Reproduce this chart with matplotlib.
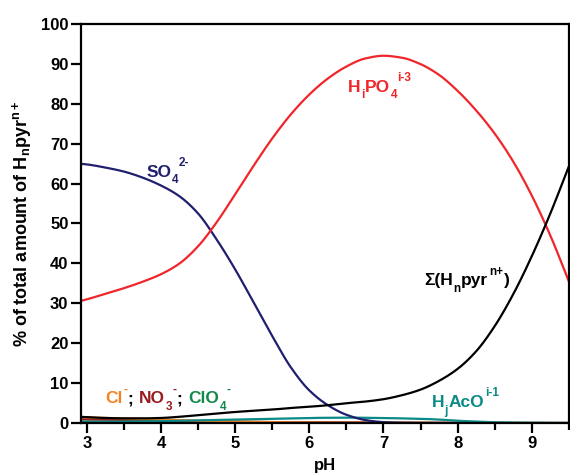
import matplotlib
matplotlib.use("Agg")
import matplotlib.pyplot as plt
from matplotlib.transforms import offset_copy
import numpy as np

plt.rcParams['font.family'] = ['Liberation Sans', 'DejaVu Sans']
plt.rcParams['font.weight'] = 'bold'
plt.rcParams['mathtext.fontset'] = 'custom'
plt.rcParams['mathtext.rm'] = 'Liberation Sans:bold'
plt.rcParams['mathtext.bf'] = 'Liberation Sans:bold'
plt.rcParams['mathtext.default'] = 'bf'

ph = [2.9, 3.0, 3.25, 3.5, 3.75, 4.0, 4.25, 4.5, 4.75, 5.0, 5.25, 5.5, 5.75, 6.0,
      6.25, 6.5, 6.75, 7.0, 7.25, 7.5, 7.75, 8.0, 8.25, 8.5, 8.75, 9.0, 9.25, 9.5]

hipo4 = [30.5, 31.0, 32.4, 33.8, 35.4, 37.3, 40.0, 44.3, 50.3, 57.3, 64.5, 71.3, 77.3, 82.3,
         86.3, 89.3, 91.3, 92.0, 91.5, 89.9, 87.2, 83.2, 78.3, 72.5, 65.5, 57.0, 47.0, 35.5]

so4 = [65.0, 64.8, 64.0, 63.0, 61.5, 59.5, 56.8, 52.5, 46.0, 38.5, 30.2, 21.8, 14.0, 8.2,
       4.5, 2.1, 0.8, 0.25, 0.05, 0.0, 0.0, 0.0, 0.0, 0.0, 0.0, 0.0, 0.0, 0.0]

hpyr = [1.6, 1.5, 1.3, 1.2, 1.2, 1.3, 1.6, 2.0, 2.4, 2.8, 3.1, 3.4, 3.8, 4.1,
        4.5, 5.0, 5.4, 6.0, 7.0, 8.4, 10.6, 13.6, 18.0, 24.3, 32.3, 41.8, 52.5, 64.3]

hjaco = [0.3, 0.3, 0.35, 0.4, 0.45, 0.5, 0.6, 0.7, 0.8, 0.9, 1.0, 1.1, 1.2, 1.3,
         1.35, 1.4, 1.35, 1.3, 1.2, 1.1, 0.9, 0.6, 0.4, 0.2, 0.15, 0.1, 0.08, 0.05]

cl = [1.5, 1.45, 1.3, 1.2, 1.05, 0.9, 0.75, 0.6, 0.5, 0.4, 0.32, 0.25, 0.2, 0.15,
      0.12, 0.1, 0.08, 0.08, 0.07, 0.06, 0.05, 0.05, 0.04, 0.04, 0.03, 0.03, 0.03, 0.03]

no3 = [1.0, 0.95, 0.9, 0.8, 0.7, 0.6, 0.52, 0.45, 0.4, 0.35, 0.3, 0.27, 0.24, 0.2,
       0.19, 0.18, 0.17, 0.15, 0.14, 0.13, 0.12, 0.1, 0.09, 0.08, 0.07, 0.05, 0.05, 0.05]

clo4 = [0.4, 0.4, 0.38, 0.36, 0.33, 0.3, 0.28, 0.25, 0.22, 0.2, 0.18, 0.15, 0.13, 0.1,
        0.09, 0.08, 0.07, 0.06, 0.05, 0.05, 0.04, 0.04, 0.03, 0.03, 0.03, 0.03, 0.03, 0.03]

xticks = [3, 4, 5, 6, 7, 8, 9]
yticks = [0, 10, 20, 30, 40, 50, 60, 70, 80, 90, 100]

c_red = '#f0262a'
c_navy = '#1f1f6e'
c_teal = '#0b8a87'
c_orange = '#f5821f'
c_dred = '#981d22'
c_green = '#12894a'


def smooth_line(x, y, n=20):
    """Monotone cubic (Fritsch-Carlson) drawing path through the read points."""
    x = np.asarray(x, float)
    y = np.asarray(y, float)
    h = np.diff(x)
    d = np.diff(y) / h
    m = np.zeros_like(y)
    m[0], m[-1] = d[0], d[-1]
    for k in range(1, len(x) - 1):
        if d[k - 1] * d[k] <= 0:
            m[k] = 0.0
        else:
            w1 = 2 * h[k] + h[k - 1]
            w2 = h[k] + 2 * h[k - 1]
            m[k] = (w1 + w2) / (w1 / d[k - 1] + w2 / d[k])
    xs, ys = [], []
    for k in range(len(x) - 1):
        t = np.linspace(0, 1, n, endpoint=False)
        h00 = 2 * t**3 - 3 * t**2 + 1
        h10 = t**3 - 2 * t**2 + t
        h01 = -2 * t**3 + 3 * t**2
        h11 = t**3 - t**2
        xs.append(x[k] + t * h[k])
        ys.append(h00 * y[k] + h10 * h[k] * m[k] + h01 * y[k + 1] + h11 * h[k] * m[k + 1])
    xs.append([x[-1]])
    ys.append([y[-1]])
    return np.concatenate(xs), np.concatenate(ys)


fig = plt.figure(figsize=(5.7, 4.76), dpi=100)
ax = fig.add_axes([0.142, 0.111, 0.856, 0.839])

lw = 1.6
for series, col in [(clo4, c_green), (no3, c_dred), (cl, c_orange), (hjaco, c_teal),
                    (so4, c_navy), (hipo4, c_red), (hpyr, 'black')]:
    sx, sy = smooth_line(ph, series)
    ax.plot(sx, sy, color=col, lw=lw, solid_capstyle='butt')

ax.set_xlim(2.92, 9.48)
ax.set_ylim(0, 100)
ax.set_xticks(xticks)
ax.set_xticks([3.5, 4.5, 5.5, 6.5, 7.5, 8.5, 9.5], minor=True)
ax.set_yticks(yticks)
ax.tick_params(axis='both', which='major', direction='out', length=7, width=1.6,
               labelsize=12, pad=2)
ax.tick_params(axis='x', which='minor', direction='out', length=5, width=1.6)
for lab in ax.get_xticklabels() + ax.get_yticklabels():
    lab.set_fontweight('bold')
for s in ax.spines.values():
    s.set_linewidth(1.6)

ax.set_xlabel('pH', fontsize=12, fontweight='bold', labelpad=5)
ax.set_ylabel(r'% of total amount of H$_\mathbf{n}$pyr$^\mathbf{n+}$', fontsize=13,
              fontweight='bold', labelpad=5)

fig.canvas.draw()
renderer = fig.canvas.get_renderer()
DPI = fig.dpi


def rich(x, y, parts, fs=12.5):
    """parts: list of (text, kind, color); kind in 'n', 'sub', 'sup'."""
    dx = 0.0
    for s, kind, col in parts:
        if kind == 'n':
            size, dy = fs, 0.0
        elif kind == 'sub':
            size, dy = fs * 0.68, -fs * 0.38
        else:
            size, dy = fs * 0.68, fs * 0.62
        tr = offset_copy(ax.transData, fig=fig, x=dx, y=dy, units='points')
        t = ax.text(x, y, s, transform=tr, fontsize=size, fontweight='bold', color=col,
                    ha='left', va='baseline')
        w = t.get_window_extent(renderer=renderer).width * 72.0 / DPI
        dx += w + (0.5 if kind != 'n' else 0.3)


rich(3.80, 61.7, [('SO', 'n', c_navy), ('4', 'sub', c_navy), ('2-', 'sup', c_navy)])
rich(6.52, 83.0, [('H', 'n', c_red), ('i', 'sub', c_red), ('PO', 'n', c_red),
                  ('4', 'sub', c_red), ('i-3', 'sup', c_red)])
rich(7.55, 34.5, [('\u03a3(H', 'n', 'black'), ('n', 'sub', 'black'), ('pyr', 'n', 'black'),
                  ('n+', 'sup', 'black'), (')', 'n', 'black')])
rich(7.65, 4.0, [('H', 'n', c_teal), ('j', 'sub', c_teal), ('AcO', 'n', c_teal),
                 ('i-1', 'sup', c_teal)])
rich(3.25, 5.0, [('Cl', 'n', c_orange), ('-', 'sup', c_orange), ('; ', 'n', 'black'),
                 ('NO', 'n', c_dred), ('3', 'sub', c_dred), ('-', 'sup', c_dred),
                 ('; ', 'n', 'black'), ('ClO', 'n', c_green), ('4', 'sub', c_green),
                 ('-', 'sup', c_green)])

fig.savefig('out.png', dpi=100)
